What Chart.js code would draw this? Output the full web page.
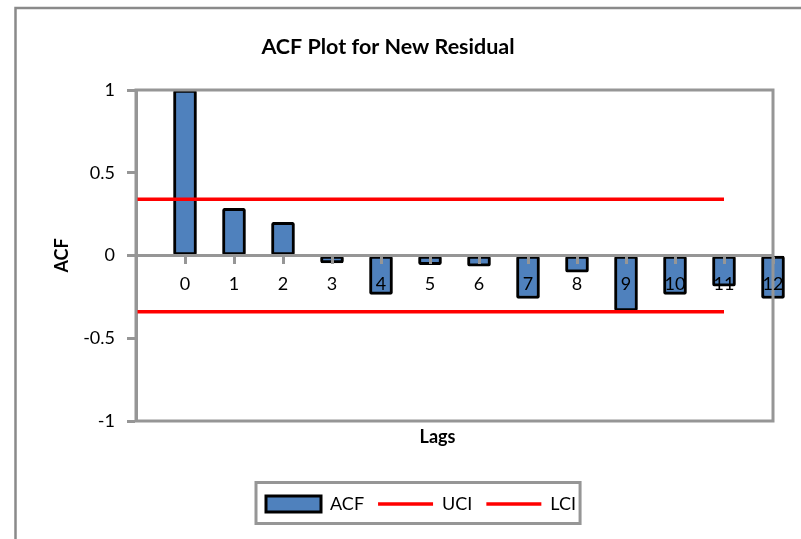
<!DOCTYPE html>
<html>
<head>
<meta charset="utf-8">
<title>ACF Plot for New Residual</title>
<script src="https://cdn.jsdelivr.net/npm/chart.js@4.4.1/dist/chart.umd.min.js"></script>
<style>
  html, body { margin: 0; padding: 0; background: #ffffff; }
  canvas { display: block; }
</style>
</head>
<body>
<canvas id="acf" width="801" height="539"></canvas>
<script>
// Category slots: a leading blank slot, then lags 0..12
const lagLabels = ['', '0', '1', '2', '3', '4', '5', '6', '7', '8', '9', '10', '11', '12'];

// Autocorrelation of the new residuals, one per lag (blank slot has none)
const acfValues = [null, 1.0, 0.285, 0.20, -0.045, -0.235, -0.055, -0.065, -0.26, -0.10, -0.335, -0.235, -0.185, -0.26];

// Upper / lower confidence limits
const uciValues = [0.34, 0.34, 0.34, 0.34, 0.34, 0.34, 0.34, 0.34, 0.34, 0.34, 0.34, 0.34, 0.34, null];
const lciValues = [-0.34, -0.34, -0.34, -0.34, -0.34, -0.34, -0.34, -0.34, -0.34, -0.34, -0.34, -0.34, -0.34, null];

// Y axis range, step and tick labels
const yMin = -1, yMax = 1, yStep = 0.5;
const yTickLabels = { '-1': '-1', '-0.5': '-0.5', '0': '0', '0.5': '0.5', '1': '1' };

const FONT = 'Lato, "Open Sans", "DejaVu Sans", sans-serif';
const AXIS_GRAY = '#969696';
const FRAME_GRAY = '#8a8a8a';

// White background, outer chart frame, plot-area border and legend border
const framePlugin = {
  id: 'frames',
  beforeDraw(chart) {
    const ctx = chart.ctx;
    ctx.save();
    ctx.fillStyle = '#ffffff';
    ctx.fillRect(0, 0, chart.width, chart.height);
    ctx.strokeStyle = FRAME_GRAY;
    ctx.lineWidth = 2.5;
    ctx.strokeRect(15.5, 8, chart.width + 20, chart.height + 20);
    ctx.restore();
  },
  afterLayout(chart) {
    // legend row sits left of centre under the plot
    const lg = chart.legend;
    if (lg && lg.lineWidths) {
      const pad = lg.options.labels.padding;
      const start = (lg.left + pad + lg.right - lg.lineWidths[0]) / 2;
      const dx = 266 - start;
      lg.left += dx;
      lg.right += dx;
    }
    // the "Lags" caption sits a little left of the plot centre
    const t = chart.scales.lagTitle;
    if (t) {
      t.left -= 17;
      t.right -= 17;
    }
  },
  afterDatasetsDraw(chart) {
    const {ctx, chartArea: a} = chart;
    ctx.save();
    ctx.strokeStyle = AXIS_GRAY;
    ctx.lineWidth = 3;
    ctx.strokeRect(a.left, a.top, a.right - a.left, a.bottom - a.top);
    ctx.restore();
  },
  afterDraw(chart) {
    const boxes = chart.legend && chart.legend.legendHitBoxes;
    if (!boxes || !boxes.length) return;
    const ctx = chart.ctx;
    const first = boxes[0], last = boxes[boxes.length - 1];
    const cy = first.top + first.height / 2;
    const x0 = first.left - 10;
    const x1 = last.left + last.width + 4;
    ctx.save();
    ctx.strokeStyle = AXIS_GRAY;
    ctx.lineWidth = 3;
    ctx.strokeRect(x0, cy - 21.5, x1 - x0, 41);
    ctx.restore();
  }
};

new Chart(document.getElementById('acf'), {
  type: 'bar',
  data: {
    labels: lagLabels,
    datasets: [
      {
        label: 'ACF',
        data: acfValues,
        backgroundColor: '#4f81bd',
        borderColor: '#000000',
        borderWidth: 3,
        borderSkipped: false,
        borderRadius: 2,
        barThickness: 23,
        pointStyle: 'rect',
        clip: false,
        order: 2
      },
      {
        type: 'line',
        label: 'UCI',
        data: uciValues,
        borderColor: '#ff0000',
        backgroundColor: '#ff0000',
        borderWidth: 3.5,
        pointRadius: 0,
        pointHoverRadius: 0,
        pointStyle: 'line',
        tension: 0,
        order: 1
      },
      {
        type: 'line',
        label: 'LCI',
        data: lciValues,
        borderColor: '#ff0000',
        backgroundColor: '#ff0000',
        borderWidth: 3.5,
        pointRadius: 0,
        pointHoverRadius: 0,
        pointStyle: 'line',
        tension: 0,
        order: 0
      }
    ]
  },
  options: {
    responsive: false,
    animation: false,
    layout: { padding: { left: 3, right: 28, top: 0, bottom: 16 } },
    plugins: {
      title: {
        display: true,
        text: 'ACF Plot for New Residual',
        color: '#000000',
        font: { family: FONT, size: 21.5, weight: 'bold' },
        padding: { top: 34.6, bottom: 29.6 }
      },
      legend: {
        display: true,
        position: 'bottom',
        labels: {
          color: '#000000',
          font: { family: FONT, size: 18 },
          usePointStyle: true,
          pointStyleWidth: 55,
          boxHeight: 16,
          padding: 14,
          sort: (a, b) => a.datasetIndex - b.datasetIndex
        }
      },
      tooltip: { enabled: false }
    },
    scales: {
      x: {
        type: 'category',
        position: { y: 0 },
        offset: false,
        grid: {
          display: true,
          drawOnChartArea: false,
          drawTicks: true,
          offset: false,
          tickLength: 7,
          tickWidth: 3,
          tickColor: (c) => (c.index === 0 ? 'rgba(0,0,0,0)' : AXIS_GRAY),
          z: 1
        },
        border: { display: true, color: AXIS_GRAY, width: 3, z: 1 },
        ticks: {
          autoSkip: false,
          maxRotation: 0,
          color: '#000000',
          padding: 11,
          font: { family: FONT, size: 18 },
          z: 1
        }
      },
      lagTitle: {
        axis: 'x',
        type: 'linear',
        position: 'bottom',
        ticks: { display: false },
        grid: { display: false, drawTicks: false },
        border: { display: false },
        title: {
          display: true,
          text: 'Lags',
          color: '#000000',
          font: { family: FONT, size: 18, weight: 'bold' },
          padding: { top: 5.2, bottom: 33.2 }
        }
      },
      y: {
        type: 'linear',
        min: yMin,
        max: yMax,
        afterFit(scale) { scale.width = 133; },
        ticks: {
          stepSize: yStep,
          color: '#000000',
          padding: 12,
          font: { family: FONT, size: 18 },
          callback: (v) => yTickLabels[String(v)] ?? String(v)
        },
        grid: {
          drawOnChartArea: false,
          drawTicks: true,
          tickLength: 9,
          tickWidth: 3,
          tickColor: AXIS_GRAY
        },
        border: { display: true, color: AXIS_GRAY, width: 3 },
        title: {
          display: true,
          text: 'ACF',
          color: '#000000',
          font: { family: FONT, size: 18, weight: 'bold' },
          padding: { top: 48, bottom: 0 }
        }
      }
    }
  },
  plugins: [framePlugin]
});
</script>
</body>
</html>
